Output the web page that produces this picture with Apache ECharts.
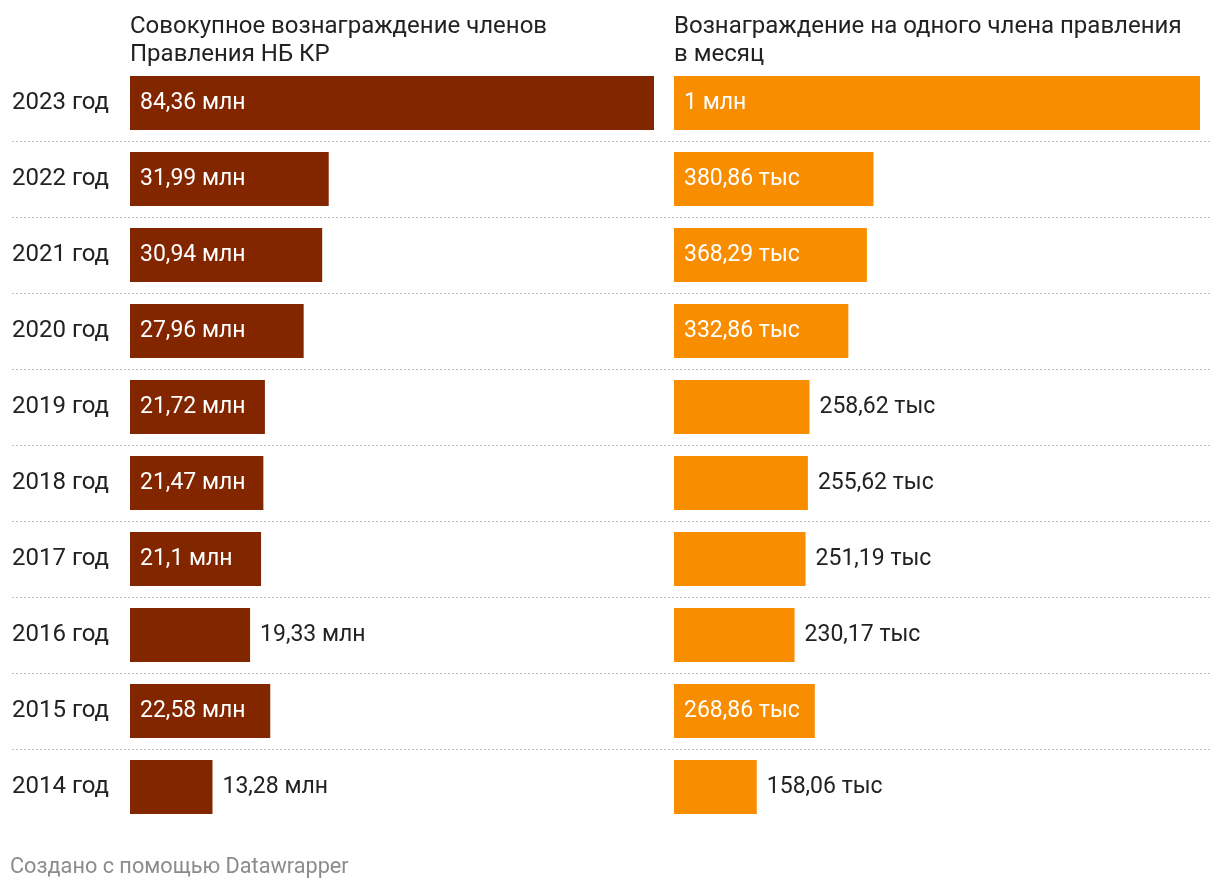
<!DOCTYPE html>
<html><head><meta charset="utf-8">
<script src="https://cdn.jsdelivr.net/npm/echarts@6/dist/echarts.min.js"></script>
<style>html,body{margin:0;padding:0;background:#fff}#c{width:1220px;height:890px}</style>
</head><body><div id="c"></div>
<script>
const years = ['2023 год','2022 год','2021 год','2020 год','2019 год','2018 год','2017 год','2016 год','2015 год','2014 год'];
const totalMln = [84.36, 31.99, 30.94, 27.96, 21.72, 21.47, 21.1, 19.33, 22.58, 13.28];
const perMemberThs = [1004.29, 380.86, 368.29, 332.86, 258.62, 255.62, 251.19, 230.17, 268.86, 158.06];
const titleLeft = 'Совокупное вознаграждение членов\nПравления НБ КР';
const titleRight = 'Вознаграждение на одного члена правления\nв месяц';
const footer = 'Создано с помощью Datawrapper';

const FONT = 'Roboto';
const FS = 24;
const LFS = 23;
const fmtNum = v => String(v).replace('.', ',');
const fmtLeft = v => fmtNum(v) + ' млн';
const fmtRight = v => v >= 1000 ? fmtNum(Math.round(v / 1000)) + ' млн' : fmtNum(v) + ' тыс';

function mkData(vals, fmt, thr) {
  return vals.map(v => ({
    value: v,
    label: v > thr
      ? {show: true, position: 'insideLeft', distance: 10, color: '#fff', formatter: () => fmt(v)}
      : {show: true, position: 'right', distance: 10, color: '#222', formatter: () => fmt(v)}
  }));
}

const chart = echarts.init(document.getElementById('c'), null, {renderer: 'canvas'});
const gTop = 65, gH = 760;
chart.setOption({
  animation: false,
  textStyle: {fontFamily: FONT},
  title: [
    {text: titleLeft, left: 125, top: 8, textStyle: {fontFamily: FONT, fontSize: FS, fontWeight: 'normal', color: '#222', lineHeight: 28}},
    {text: titleRight, left: 669, top: 8, textStyle: {fontFamily: FONT, fontSize: FS, fontWeight: 'normal', color: '#222', lineHeight: 28}},
    {text: footer, left: 5, top: 852, textStyle: {fontFamily: FONT, fontSize: 21.7, fontWeight: 'normal', color: '#8c8c8c'}}
  ],
  grid: [
    {left: 130, width: 524, top: gTop, height: gH},
    {left: 674, width: 526, top: gTop, height: gH},
    {left: 12, right: 10, top: gTop, height: gH}
  ],
  xAxis: [
    {gridIndex: 0, type: 'value', min: 0, max: 84.36, show: false},
    {gridIndex: 1, type: 'value', min: 0, max: 1004.29, show: false},
    {gridIndex: 2, type: 'value', min: 0, max: 1, show: false}
  ],
  yAxis: [
    {gridIndex: 0, type: 'category', data: years, inverse: true, show: false},
    {gridIndex: 1, type: 'category', data: years, inverse: true, show: false},
    {gridIndex: 2, type: 'category', data: years, inverse: true,
      axisLine: {show: false}, axisTick: {show: false},
      axisLabel: {inside: true, margin: 0, color: '#222', fontFamily: FONT, fontSize: FS},
      splitLine: {show: true, showMinLine: false, showMaxLine: false, lineStyle: {color: '#bdbdbd', width: 1, type: [2, 2]}}
    }
  ],
  series: [
    {type: 'bar', xAxisIndex: 0, yAxisIndex: 0, barWidth: 54, itemStyle: {color: '#822600'},
      label: {fontFamily: FONT, fontSize: LFS}, data: mkData(totalMln, fmtLeft, 20)},
    {type: 'bar', xAxisIndex: 1, yAxisIndex: 1, barWidth: 54, itemStyle: {color: '#f88d00'},
      label: {fontFamily: FONT, fontSize: LFS}, data: mkData(perMemberThs, fmtRight, 262)}
  ]
});
</script></body></html>
